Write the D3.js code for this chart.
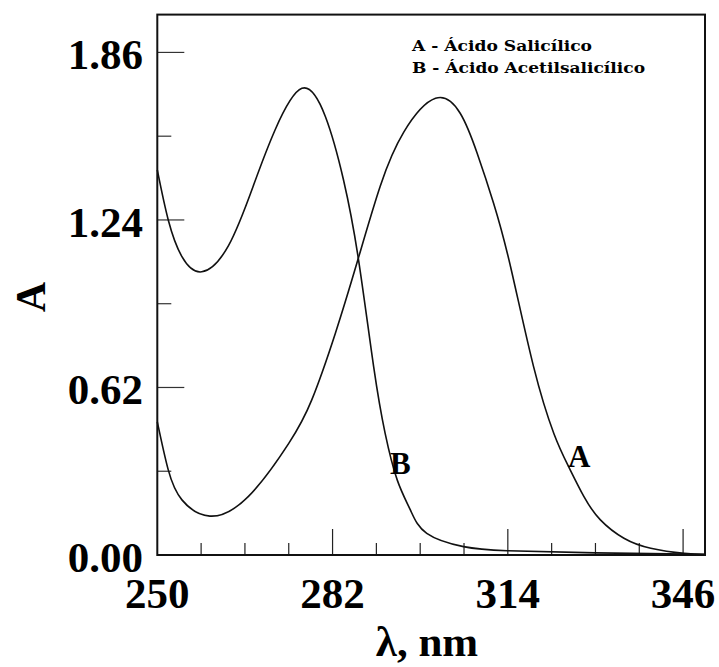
<!DOCTYPE html>
<html>
<head>
<meta charset="utf-8">
<script src="https://cdn.jsdelivr.net/npm/d3@7"></script>
<style>
  body { margin: 0; background: #fff; }
  text { font-family: "Liberation Serif", "Times New Roman", serif; font-weight: bold; fill: #000; }
</style>
</head>
<body>
<svg id="chart" width="719" height="667"></svg>
<script>
// absorbance spectra
const wavelength_a = [250, 252, 254.5, 259.6, 266.6, 274, 278.2, 282.5, 286.7, 290.7, 295, 300.8, 305.3, 308.4, 311.4, 314.5, 318.7, 322.4, 325.1, 327.9, 330.9, 335.2, 340.1, 346.2, 350];
const absorb_a = [0.493, 0.315, 0.204, 0.144, 0.216, 0.413, 0.574, 0.82, 1.098, 1.365, 1.565, 1.69, 1.635, 1.487, 1.302, 1.067, 0.697, 0.45, 0.327, 0.216, 0.13, 0.062, 0.025, 0.006, 0.002];

const wavelength_b = [250, 252, 254.5, 258.1, 263, 267.6, 271.5, 276.4, 280.7, 284, 286.7, 289.5, 291.6, 293.8, 296.2, 299.2, 305.9, 313.9, 330, 350];
const absorb_b = [1.425, 1.24, 1.104, 1.048, 1.145, 1.37, 1.573, 1.727, 1.622, 1.388, 1.098, 0.697, 0.45, 0.278, 0.167, 0.08, 0.031, 0.016, 0.008, 0.003];

const x_major = [250, 282, 314, 346];
const x_minor = [258, 266, 274, 290, 298, 306, 322, 330, 338];
const y_major = [0, 0.62, 1.24, 1.86];
const y_minor = [0.31, 0.93, 1.55];
const legend_lines = ['A - Ácido Salicílico', 'B - Ácido Acetilsalicílico'];
const curve_labels = [{text: 'A', nm: 325.0, abs: 0.326}, {text: 'B', nm: 292.5, abs: 0.30}];

const plot_left = 157.3, plot_right = 705, plot_top = 14.6, plot_bottom = 555;

const x = d3.scaleLinear().domain([250, 350]).range([plot_left, plot_right]);
const y = d3.scaleLinear().domain([0, 2.0]).range([plot_bottom, plot_top]);

const svg = d3.select('#chart');

// inner ticks
svg.append('g').selectAll('line')
    .data(x_major.slice(1)).join('line')
    .attr('x1', d => x(d)).attr('x2', d => x(d))
    .attr('y1', plot_bottom).attr('y2', plot_bottom - 26)
    .attr('stroke', '#222').attr('stroke-width', 1.2);
svg.append('g').selectAll('line')
    .data(x_minor).join('line')
    .attr('x1', d => x(d)).attr('x2', d => x(d))
    .attr('y1', plot_bottom).attr('y2', plot_bottom - 12)
    .attr('stroke', '#222').attr('stroke-width', 1.2);
svg.append('g').selectAll('line')
    .data(y_major.slice(1)).join('line')
    .attr('x1', plot_left).attr('x2', plot_left + 27)
    .attr('y1', d => y(d)).attr('y2', d => y(d))
    .attr('stroke', '#333').attr('stroke-width', 1.2);
svg.append('g').selectAll('line')
    .data(y_minor).join('line')
    .attr('x1', plot_left).attr('x2', plot_left + 14)
    .attr('y1', d => y(d)).attr('y2', d => y(d))
    .attr('stroke', '#333').attr('stroke-width', 1.2);

// frame
svg.append('rect')
    .attr('x', plot_left).attr('y', plot_top)
    .attr('width', plot_right - plot_left).attr('height', plot_bottom - plot_top)
    .attr('fill', 'none').attr('stroke', '#111').attr('stroke-width', 2);

// curves
const line = d3.line()
    .x(d => x(d[0])).y(d => y(d[1]))
    .curve(d3.curveNatural);

svg.append('path')
    .datum(d3.zip(wavelength_a, absorb_a))
    .attr('d', line)
    .attr('fill', 'none').attr('stroke', '#111').attr('stroke-width', 1.6);
svg.append('path')
    .datum(d3.zip(wavelength_b, absorb_b))
    .attr('d', line)
    .attr('fill', 'none').attr('stroke', '#111').attr('stroke-width', 1.6);

// tick labels
svg.append('g').selectAll('text')
    .data(y_major).join('text')
    .text(d => d.toFixed(2))
    .attr('x', 143).attr('y', d => y(d) + 17)
    .attr('text-anchor', 'end')
    .style('font-size', '43px');

svg.append('g').selectAll('text')
    .data(x_major).join('text')
    .text(d => d)
    .attr('x', d => x(d)).attr('y', 608)
    .attr('text-anchor', 'middle')
    .style('font-size', '43px');

// axis titles
svg.append('text').text('λ, nm')
    .attr('x', 427).attr('y', 656)
    .attr('text-anchor', 'middle')
    .style('font-size', '43px');

svg.append('text').text('A')
    .attr('transform', 'translate(45, 297) rotate(-90)')
    .attr('text-anchor', 'middle')
    .style('font-size', '42px');

// curve labels
svg.append('g').selectAll('text')
    .data(curve_labels).join('text')
    .text(d => d.text)
    .attr('x', d => x(d.nm)).attr('y', d => y(d.abs))
    .style('font-size', '31px');

// legend
const leg_width = [180, 233];
svg.append('g').selectAll('text')
    .data(legend_lines).join('text')
    .text(d => d)
    .attr('x', 412).attr('y', (d, i) => 51 + i * 22)
    .attr('textLength', (d, i) => leg_width[i])
    .attr('lengthAdjust', 'spacingAndGlyphs')
    .style('font-family', '"DejaVu Serif", serif')
    .style('font-size', '15.5px');
</script>
</body>
</html>
